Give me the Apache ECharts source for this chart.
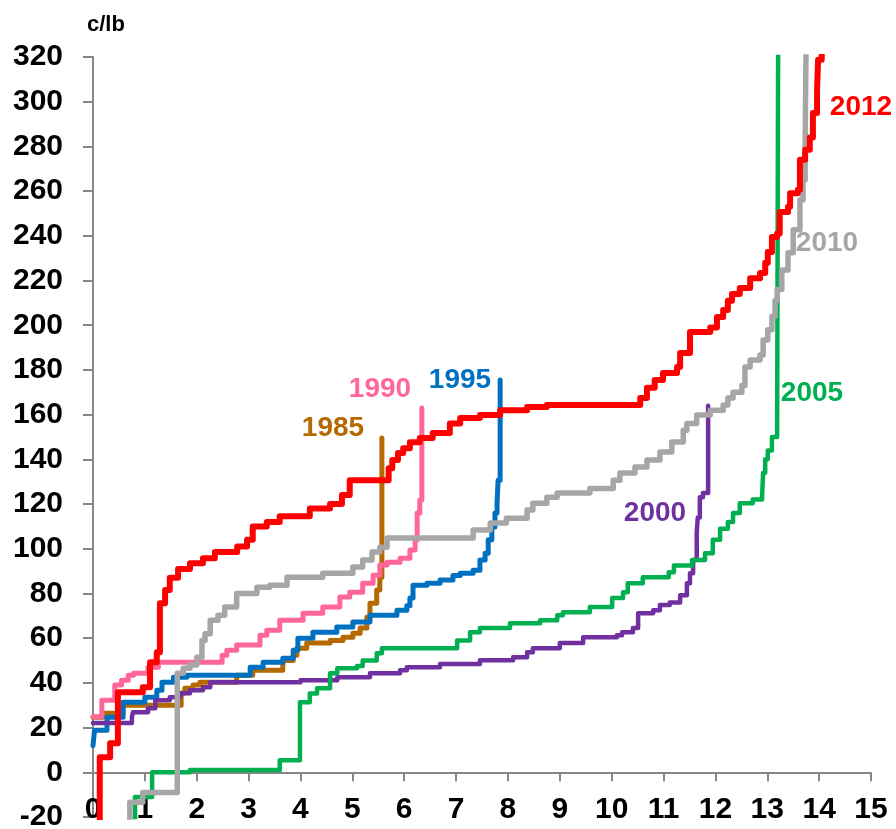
<!DOCTYPE html>
<html><head><meta charset="utf-8">
<script src="https://cdn.jsdelivr.net/npm/echarts@6/dist/echarts.min.js"></script>
<style>html,body{margin:0;padding:0;background:#fff}#c{width:896px;height:829px}</style>
</head><body><div id="c"></div>
<script>
// Cumulative production (x) and cost level from that point onward (y), c/lb
const x1985 = [0, 0.19, 0.58, 1.7, 1.77, 1.93, 2.06, 2.77, 3.08, 3.66, 3.86, 3.93, 4.12, 4.57, 4.82, 5.01, 5.15, 5.28, 5.34, 5.47, 5.53, 5.57];
const y1985 = [24.6, 26.4, 30, 35.5, 37.6, 39, 40.3, 43.4, 45.7, 50, 52.4, 55.5, 57.8, 59, 60.4, 62.2, 64.5, 69.4, 75.6, 81.5, 87.3, 149.5];

const x1990 = [0, 0.17, 0.42, 0.55, 0.68, 0.78, 1.06, 1.26, 2.49, 2.58, 2.77, 3.22, 3.35, 3.6, 4.05, 4.43, 4.76, 4.95, 5.2, 5.4, 5.53, 5.67, 5.92, 6.11, 6.21, 6.25, 6.3, 6.34, 6.34];
const y1990 = [24.8, 32.2, 39, 41.2, 43.4, 44.3, 47, 49.2, 52.4, 54.6, 56.9, 61.3, 63.6, 68, 71.2, 74, 78.4, 80.6, 84.6, 88.2, 92.7, 94, 95.8, 99.4, 103.9, 116, 121.8, 133.9, 163];

const x1995 = [0, 0.03, 0.27, 0.58, 1.0, 1.23, 1.33, 1.55, 1.81, 3.03, 3.28, 3.66, 3.86, 3.95, 4.24, 4.7, 5.01, 5.34, 5.86, 6.05, 6.11, 6.17, 6.44, 6.69, 6.94, 7.08, 7.33, 7.46, 7.56, 7.62, 7.69, 7.75, 7.79, 7.81, 7.85];
const y1995 = [12, 18.8, 24.6, 31.3, 33.6, 36.7, 40.3, 42.5, 43.4, 47, 49.2, 51, 54.6, 60, 62.7, 65, 67.2, 70.3, 72.5, 74.5, 78, 83.7, 84.6, 86, 88, 89, 90.4, 95, 98, 104, 109.7, 116, 120.4, 130.7, 175.5];

const x2000 = [0, 0.75, 0.77, 1.06, 1.2, 1.48, 1.68, 1.87, 2.12, 2.26, 4.0, 4.71, 5.34, 5.92, 6.05, 6.69, 7.46, 8.1, 8.37, 8.48, 9.0, 9.45, 10.1, 10.2, 10.41, 10.51, 10.8, 10.93, 11.12, 11.32, 11.45, 11.51, 11.57, 11.64, 11.66, 11.7, 11.76, 11.86];
const y2000 = [22, 24.6, 26.9, 28.6, 32.2, 33.6, 35.4, 36.7, 38, 40.3, 41.2, 42.5, 44.3, 45.7, 47, 48.4, 50.1, 51.5, 53.7, 55.5, 57.8, 60.4, 61.3, 62.7, 64.5, 71.2, 72.5, 74.8, 76, 79.2, 84.6, 89, 95, 107, 114, 123, 125, 164];

const x2005 = [0.81, 0.81, 1.14, 1.87, 3.6, 3.99, 4.18, 4.32, 4.57, 4.71, 5.09, 5.2, 5.47, 5.57, 7.02, 7.27, 7.46, 8.04, 8.62, 8.95, 9.06, 9.58, 10.01, 10.22, 10.31, 10.6, 11.1, 11.2, 11.55, 11.8, 11.95, 12.09, 12.24, 12.34, 12.47, 12.72, 12.9, 12.92, 12.96, 13.01, 13.09, 13.19, 13.21];
const y2005 = [-25, -11, 0, 1, 5.4, 31.3, 35.3, 37.6, 44.3, 46.6, 47.5, 50, 53.3, 55.5, 59, 62.7, 64.5, 66.7, 68, 70.3, 71.6, 74, 78, 80.6, 84.6, 87.3, 89.5, 92.5, 95, 98, 104, 109, 112, 116, 120.4, 122, 123.5, 134, 140, 144, 150, 152, 330];

const x2010 = [0.71, 0.71, 0.96, 1.625, 1.74, 1.87, 2.0, 2.1, 2.16, 2.26, 2.41, 2.54, 2.77, 3.16, 3.41, 3.74, 4.43, 5.01, 5.2, 5.38, 5.53, 5.67, 7.33, 7.66, 7.97, 8.37, 8.48, 8.75, 8.95, 9.58, 10.03, 10.16, 10.45, 10.68, 10.93, 11.16, 11.38, 11.45, 11.64, 11.9, 12.15, 12.24, 12.34, 12.51, 12.57, 12.67, 12.86, 12.92, 13.01, 13.09, 13.15, 13.19, 13.28, 13.4, 13.5, 13.63, 13.69, 13.73, 13.75];
const y2010 = [-25, -13.4, -9, 44.3, 46.6, 48, 51.5, 59, 62, 68, 70.3, 74, 80, 82.8, 83.7, 87.3, 89, 91.8, 95, 98.5, 100.7, 104.8, 108.4, 111.5, 113.7, 117.3, 120.4, 123, 124.9, 127, 130.7, 133.9, 136.6, 139.7, 143.3, 147.8, 153, 156, 159.8, 162, 164.3, 167.4, 170, 173, 181.3, 184.5, 186.7, 193.4, 198, 204, 211, 216, 224.7, 232.4, 242.7, 256, 265, 280, 330];

const x2012 = [0.13, 0.13, 0.33, 0.48, 0.96, 1.1, 1.23, 1.29, 1.39, 1.48, 1.64, 1.87, 2.12, 2.35, 2.78, 2.97, 3.08, 3.35, 3.6, 4.18, 4.57, 4.8, 4.95, 5.7, 5.77, 5.88, 5.98, 6.11, 6.3, 6.55, 6.88, 7.08, 7.46, 7.85, 8.37, 8.75, 9.0, 10.55, 10.68, 10.83, 10.99, 11.26, 11.32, 11.51, 11.9, 12.03, 12.15, 12.24, 12.32, 12.47, 12.67, 12.86, 12.96, 13.01, 13.09, 13.19, 13.24, 13.4, 13.44, 13.59, 13.63, 13.73, 13.82, 13.88, 13.96, 13.98, 14.05];
const y2012 = [-25, 6.7, 13, 35.8, 38, 49.2, 53.7, 75.6, 81.5, 87, 91, 93.5, 95.8, 98.5, 101, 104, 110, 112, 114.5, 118, 120, 124, 130.7, 136, 139.7, 142.8, 145, 147.7, 149.5, 151.8, 156, 158.5, 159.8, 162, 163.4, 164.3, 164.3, 167.4, 172, 175.5, 178.6, 181.3, 187.6, 197, 199, 203.7, 206.8, 211, 214, 216.7, 221, 223.4, 228, 232.8, 239.5, 241, 250.7, 253, 259, 260.6, 274, 278.5, 284, 295, 305, 318.8, 330];

const seriesNames = ['1985', '1990', '1995', '2000', '2005', '2010', '2012'];
const seriesX = [x1985, x1990, x1995, x2000, x2005, x2010, x2012];
const seriesY = [y1985, y1990, y1995, y2000, y2005, y2010, y2012];
const colors = ['#B46A00', '#FF6699', '#0070C0', '#7030A0', '#00B050', '#A6A6A6', '#FF0000'];
const widths = [5, 5, 5, 4.5, 4.5, 5.5, 6];
const xTicks = [0, 15, 1];
const yTicks = [-20, 320, 20];
const unitLabel = 'c/lb';

// label anchors (pixels)
const labelPos = {
  '1985': [333, 428], '1990': [380, 389], '1995': [460, 380], '2000': [655, 513],
  '2005': [812, 393], '2010': [827, 243], '2012': [861, 107]
};

const chart = echarts.init(document.getElementById('c'), null, {renderer: 'canvas'});
const axisColor = '#868686';
const fontFam = '"Liberation Sans", Arial, sans-serif';

const series = seriesNames.map((n, i) => ({
  name: n,
  type: 'line',
  step: 'end',
  symbol: 'none',
  clip: true,
  data: seriesX[i].map((x, j) => [x, seriesY[i][j]]),
  lineStyle: {color: colors[i], width: widths[i], join: 'round', cap: 'round'},
  itemStyle: {color: colors[i]},
  z: 2 + i
}));

const graphics = [{
  type: 'text', left: 87, top: 14,
  style: {text: unitLabel, font: 'bold 22px ' + fontFam, fill: '#000'}
}];
seriesNames.forEach((n, i) => {
  graphics.push({
    type: 'text', x: labelPos[n][0], y: labelPos[n][1], z: 100,
    style: {text: n, font: 'bold 28px ' + fontFam, fill: colors[i], textAlign: 'center', textVerticalAlign: 'middle'}
  });
});

chart.setOption({
  animation: false,
  backgroundColor: '#fff',
  grid: {left: 93, right: 25, top: 57, bottom: 12, containLabel: false, outerBoundsMode: 'none'},
  xAxis: [{
    type: 'value', min: xTicks[0], max: xTicks[1], interval: xTicks[2],
    axisLine: {show: true, onZero: true, lineStyle: {color: axisColor, width: 2}},
    axisTick: {show: true, length: 9, lineStyle: {color: axisColor, width: 2}},
    axisLabel: {show: false},
    splitLine: {show: false}
  }, {
    type: 'value', min: xTicks[0], max: xTicks[1], interval: xTicks[2], position: 'bottom',
    axisLine: {show: false, onZero: false},
    axisTick: {show: false},
    axisLabel: {show: true, margin: -22, verticalAlign: 'top', color: '#000', fontSize: 30, fontWeight: 'bold', fontFamily: fontFam, hideOverlap: false},
    splitLine: {show: false}
  }],
  yAxis: {
    type: 'value', min: yTicks[0], max: yTicks[1], interval: yTicks[2],
    axisLine: {show: true, onZero: false, lineStyle: {color: axisColor, width: 2}},
    axisTick: {show: true, length: 10, lineStyle: {color: axisColor, width: 2}},
    axisLabel: {margin: 30, color: '#000', fontSize: 30, fontWeight: 'bold', fontFamily: fontFam},
    splitLine: {show: false}
  },
  series: series,
  graphic: graphics
});
</script></body></html>
